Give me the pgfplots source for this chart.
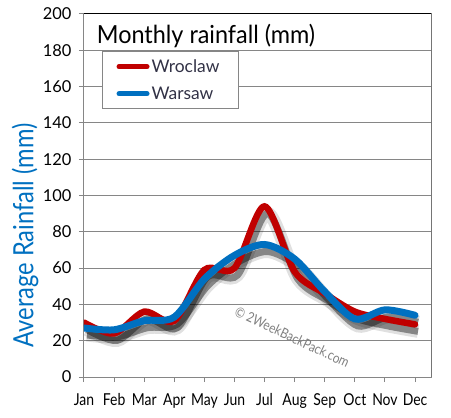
\documentclass[border=0pt]{standalone}
\usepackage{pgfplots}
\pgfplotsset{compat=1.18}
\usepackage{fontspec}
\setmainfont{Lato}
\newfontfamily\cf[FakeStretch=0.85]{Lato}
\newfontfamily\tf[FakeStretch=0.94]{Lato}
\definecolor{wred}{RGB}{192,0,0}
\definecolor{wblue}{RGB}{0,112,192}
\definecolor{gridgray}{RGB}{134,134,134}
\definecolor{legtext}{RGB}{50,50,70}
\begin{document}
\begin{tikzpicture}
\useasboundingbox (-84bp,-41bp) rectangle (367bp,377bp);
\begin{axis}[
  at={(0,0)}, anchor=south west,
  scale only axis, width=347bp, height=363bp,
  xmin=0, xmax=11.53, ymin=0, ymax=200,
  xtick={0,...,11},
  xticklabels={Jan,Feb,Mar,Apr,May,Jun,Jul,Aug,Sep,Oct,Nov,Dec},
  ytick={0,20,...,200},
  /pgf/number format/assume math mode=true,
  ymajorgrids, grid style={gridgray, line width=1bp},
  axis line style={gridgray, line width=1bp},
  tick style={gridgray, line width=1bp},
  tick align=outside, major tick length=5bp,
  xtick pos=bottom, ytick pos=left,
  yticklabel style={font=\fontsize{16.5}{18}\selectfont, text=black, xshift=-4bp},
  xticklabel style={font=\cf\fontsize{16.5}{18}\selectfont, text=black, yshift=-8bp},
  ylabel={Average Rainfall (mm)},
  every axis y label/.style={at={(rel axis cs:-0.17,0.39)}, rotate=90, anchor=center,
     font=\cf\fontsize{28}{30}\selectfont, text=wblue},
  legend style={at={(rel axis cs:0.052,0.898)}, anchor=north west, draw=gridgray, line width=1bp,
     font=\fontsize{17.5}{19}\selectfont, text=legtext, inner xsep=14bp, inner ysep=6bp,
     row sep=9bp},
  legend cell align=left,
  legend image code/.code={\draw[line width=5bp, line cap=round] (0bp,0bp) -- (28bp,0bp);},
]
\node[rotate=-25, text=gray, font=\cf\fontsize{14}{16}\selectfont] at (axis cs:6.92,22) {© 2WeekBackPack.com};
% shadows
\addplot[forget plot, smooth, black, opacity=0.12, line width=13bp, xshift=3bp, yshift=-7bp] coordinates {
(0,30) (1,24) (2,36) (3,31) (4,59) (5,60) (6,94) (7,58) (8,46) (9,36) (10,32) (11,29)};
\addplot[forget plot, smooth, black, opacity=0.4, line width=7bp, xshift=3bp, yshift=-7bp] coordinates {
(0,30) (1,24) (2,36) (3,31) (4,59) (5,60) (6,94) (7,58) (8,46) (9,36) (10,32) (11,29)};
\addplot[forget plot, smooth, black, opacity=0.12, line width=13bp, xshift=3bp, yshift=-7bp] coordinates {
(0,27) (1,26) (2,31) (3,33) (4,54) (5,67) (6,73) (7,65) (8,47) (9,32) (10,37) (11,34)};
\addplot[forget plot, smooth, black, opacity=0.4, line width=7bp, xshift=3bp, yshift=-7bp] coordinates {
(0,27) (1,26) (2,31) (3,33) (4,54) (5,67) (6,73) (7,65) (8,47) (9,32) (10,37) (11,34)};
% main lines
\addplot[smooth, wred, line width=6.5bp, line cap=round] coordinates {
(0,30) (1,24) (2,36) (3,31) (4,59) (5,60) (6,94) (7,58) (8,46) (9,36) (10,32) (11,29)};
\addlegendentry{Wroclaw\hspace*{3bp}}
\addplot[smooth, wblue, line width=7bp, line cap=round] coordinates {
(0,27) (1,26) (2,31) (3,33) (4,54) (5,67) (6,73) (7,65) (8,47) (9,32) (10,37) (11,34)};
\addlegendentry{Warsaw}
\draw[black, line width=1bp] (rel axis cs:0,1) -- (rel axis cs:1,1) -- (rel axis cs:1,0);
\node[anchor=base west, font=\tf\fontsize{25}{28}\selectfont] at (rel axis cs:0.027,0.92) {Monthly rainfall (mm)};
\end{axis}
\end{tikzpicture}
\end{document}
